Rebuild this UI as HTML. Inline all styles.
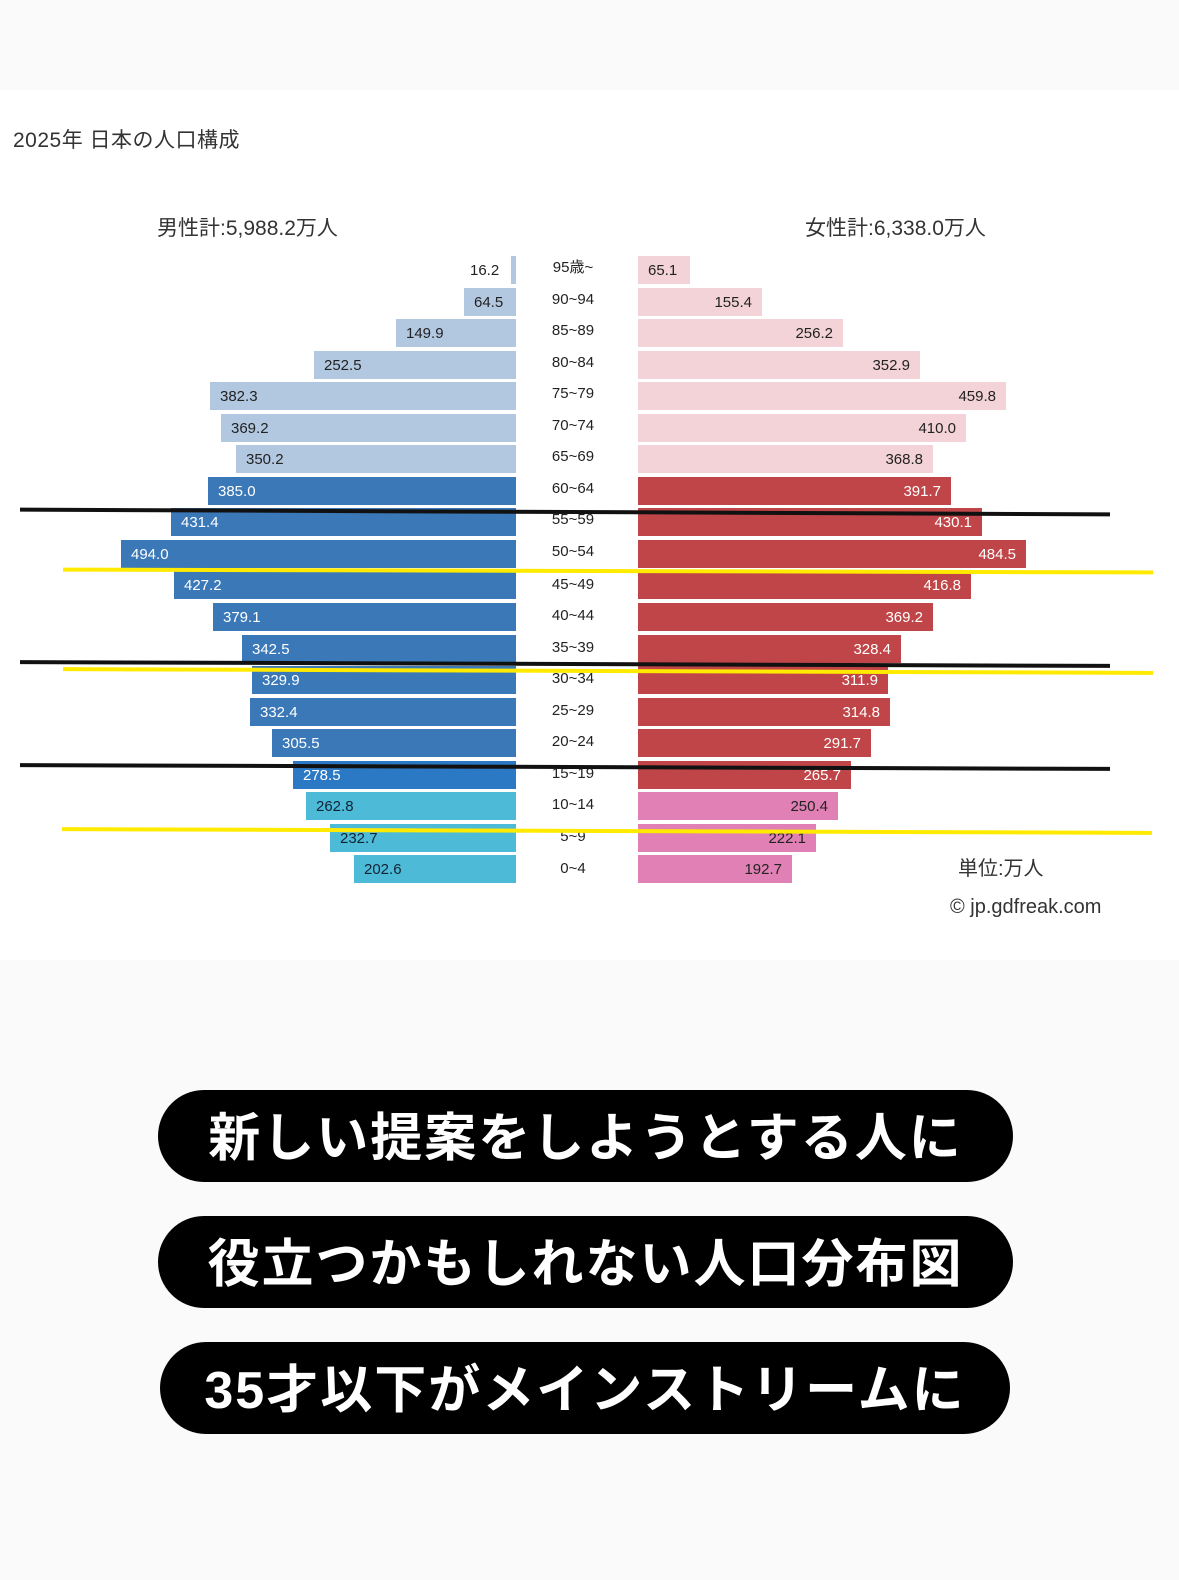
<!DOCTYPE html>
<html><head><meta charset="utf-8"><style>
body{margin:0;width:1179px;height:1580px;background:#fafafa;position:relative;overflow:hidden;font-family:"Liberation Sans","Noto Sans CJK JP",sans-serif}
.chart{position:absolute;left:0;top:90px;width:1179px;height:870px;background:#fff}
.b{position:absolute;height:28px;line-height:29px;font-size:15px;box-sizing:border-box;white-space:nowrap}
.m{padding-left:10px}
.f{padding-right:10px;text-align:right}
.lb{background:#b2c8e1;color:#222}
.db{background:#3a78b8;color:#fff}
.db2{background:#2b79c4;color:#fff}
.cy{background:#4dbbd8;color:#123}
.lp{background:#f3d3d7;color:#222}
.rd{background:#c04548;color:#fff}
.pk{background:#e080b4;color:#222}
.a{position:absolute;left:530px;width:86px;text-align:center;font-size:15px;line-height:28px;color:#222}
.t{position:absolute;color:#333;font-size:21px}
.ln{position:absolute;height:4px}
.pill{position:absolute;background:#000;color:#fff;font-weight:bold;font-size:52px;text-align:center;border-radius:46px;height:92px;line-height:98px;letter-spacing:2px}
</style></head><body>
<div class="chart"></div>
<div class="t" style="left:13px;top:124px;letter-spacing:0.5px">2025年 日本の人口構成</div>
<div class="t" style="left:157px;top:212px">男性計:5,988.2万人</div>
<div class="t" style="left:805px;top:212px">女性計:6,338.0万人</div>
<div class="t" style="left:958px;top:852px;font-size:20px">単位:万人</div>
<div class="t" style="left:950px;top:896px;font-size:20px">© jp.gdfreak.com</div>

<div class="b lb" style="left:511px;top:256px;width:5px"></div><div class="b" style="left:470px;top:256px;width:40px;color:#222">16.2</div>
<div class="b m lb" style="left:464px;top:288px;width:52px">64.5</div>
<div class="b m lb" style="left:396px;top:319px;width:120px">149.9</div>
<div class="b m lb" style="left:314px;top:351px;width:202px">252.5</div>
<div class="b m lb" style="left:210px;top:382px;width:306px">382.3</div>
<div class="b m lb" style="left:221px;top:414px;width:295px">369.2</div>
<div class="b m lb" style="left:236px;top:445px;width:280px">350.2</div>
<div class="b m db" style="left:208px;top:477px;width:308px">385.0</div>
<div class="b m db" style="left:171px;top:508px;width:345px">431.4</div>
<div class="b m db" style="left:121px;top:540px;width:395px">494.0</div>
<div class="b m db" style="left:174px;top:571px;width:342px">427.2</div>
<div class="b m db" style="left:213px;top:603px;width:303px">379.1</div>
<div class="b m db" style="left:242px;top:635px;width:274px">342.5</div>
<div class="b m db" style="left:252px;top:666px;width:264px">329.9</div>
<div class="b m db" style="left:250px;top:698px;width:266px">332.4</div>
<div class="b m db" style="left:272px;top:729px;width:244px">305.5</div>
<div class="b m db2" style="left:293px;top:761px;width:223px">278.5</div>
<div class="b m cy" style="left:306px;top:792px;width:210px">262.8</div>
<div class="b m cy" style="left:330px;top:824px;width:186px">232.7</div>
<div class="b m cy" style="left:354px;top:855px;width:162px">202.6</div>

<div class="b lp" style="left:638px;top:256px;width:52px;padding-left:10px">65.1</div>
<div class="b f lp" style="left:638px;top:288px;width:124px">155.4</div>
<div class="b f lp" style="left:638px;top:319px;width:205px">256.2</div>
<div class="b f lp" style="left:638px;top:351px;width:282px">352.9</div>
<div class="b f lp" style="left:638px;top:382px;width:368px">459.8</div>
<div class="b f lp" style="left:638px;top:414px;width:328px">410.0</div>
<div class="b f lp" style="left:638px;top:445px;width:295px">368.8</div>
<div class="b f rd" style="left:638px;top:477px;width:313px">391.7</div>
<div class="b f rd" style="left:638px;top:508px;width:344px">430.1</div>
<div class="b f rd" style="left:638px;top:540px;width:388px">484.5</div>
<div class="b f rd" style="left:638px;top:571px;width:333px">416.8</div>
<div class="b f rd" style="left:638px;top:603px;width:295px">369.2</div>
<div class="b f rd" style="left:638px;top:635px;width:263px">328.4</div>
<div class="b f rd" style="left:638px;top:666px;width:250px">311.9</div>
<div class="b f rd" style="left:638px;top:698px;width:252px">314.8</div>
<div class="b f rd" style="left:638px;top:729px;width:233px">291.7</div>
<div class="b f rd" style="left:638px;top:761px;width:213px">265.7</div>
<div class="b f pk" style="left:638px;top:792px;width:200px">250.4</div>
<div class="b f pk" style="left:638px;top:824px;width:178px">222.1</div>
<div class="b f pk" style="left:638px;top:855px;width:154px">192.7</div>

<div class="a" style="top:254px">95歳~</div>
<div class="a" style="top:286px">90~94</div>
<div class="a" style="top:317px">85~89</div>
<div class="a" style="top:349px">80~84</div>
<div class="a" style="top:380px">75~79</div>
<div class="a" style="top:412px">70~74</div>
<div class="a" style="top:443px">65~69</div>
<div class="a" style="top:475px">60~64</div>
<div class="a" style="top:506px">55~59</div>
<div class="a" style="top:538px">50~54</div>
<div class="a" style="top:571px">45~49</div>
<div class="a" style="top:602px">40~44</div>
<div class="a" style="top:634px">35~39</div>
<div class="a" style="top:665px">30~34</div>
<div class="a" style="top:697px">25~29</div>
<div class="a" style="top:728px">20~24</div>
<div class="a" style="top:760px">15~19</div>
<div class="a" style="top:791px">10~14</div>
<div class="a" style="top:823px">5~9</div>
<div class="a" style="top:855px">0~4</div>

<div class="ln" style="left:20px;top:510px;width:1090px;background:#111;transform:rotate(0.25deg)"></div>
<div class="ln" style="left:63px;top:569px;width:1090px;background:#ffea00;transform:rotate(0.15deg)"></div>
<div class="ln" style="left:20px;top:662px;width:1090px;background:#111;transform:rotate(0.2deg)"></div>
<div class="ln" style="left:63px;top:669px;width:1090px;background:#ffea00;transform:rotate(0.2deg)"></div>
<div class="ln" style="left:20px;top:765px;width:1090px;background:#111;transform:rotate(0.2deg)"></div>
<div class="ln" style="left:62px;top:829px;width:1090px;background:#ffea00;transform:rotate(0.2deg)"></div>

<div class="pill" style="left:158px;top:1090px;width:855px">新しい提案をしようとする人に</div>
<div class="pill" style="left:158px;top:1216px;width:855px">役立つかもしれない人口分布図</div>
<div class="pill" style="left:160px;top:1342px;width:850px">35才以下がメインストリームに</div>
</body></html>
